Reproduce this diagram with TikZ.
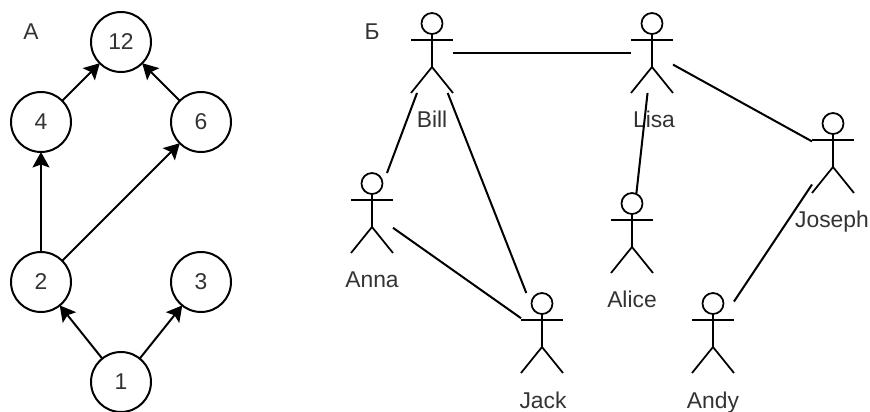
\documentclass[tikz,border=0pt]{standalone}
\usepackage{fontspec}
\setmainfont{Liberation Sans}
\usepackage{tikz}
\usetikzlibrary{positioning,calc,arrows.meta}

\tikzset{
  num/.style={circle,draw,line width=0.04cm,fill=white,minimum size=1.2cm,inner sep=0pt,outer sep=0pt,text=black!80},
  actorbox/.style={rectangle,minimum width=0.84cm,minimum height=1.6cm,inner sep=0pt,outer sep=0pt},
  edgeto/.style={line width=0.04cm,-{Stealth[length=0.31cm,width=0.34cm,inset=0.06cm]}},
  friend/.style={line width=0.04cm},
  actorline/.style={line width=0.035cm},
  txt/.style={text=black!80,inner sep=0pt,anchor=base}
}

\begin{document}
\begin{tikzpicture}[x=0.02cm,y=-0.02cm,every node/.append style={font=\fontsize{13pt}{15pt}\selectfont}]
      \useasboundingbox (0,0) rectangle (870,412);

      \node[txt] (titleA) at (31,40) {А};
      \node[txt] (titleB) at (372,40) {Б};

      % left graph
      \node[num] (n12) at (121,42) {12};
      \node[num] (n4) at (41,122) {4};
      \node[num] (n6) at (201,122) {6};
      \node[num] (n2) at (41,282) {2};
      \node[num] (n3) at (201,282) {3};
      \node[num] (n1) at (121,382) {1};

      \draw[edgeto] (n4) -- (n12);
      \draw[edgeto] (n6) -- (n12);
      \draw[edgeto] (n2) -- (n4);
      \draw[edgeto] (n2) -- (n6);
      \draw[edgeto] (n1) -- (n2);
      \draw[edgeto] (n1) -- (n3);

      % right graph
      \node[actorbox] (bill) at (432,53) {};
      \node[actorbox] (lisa) at (652,53) {};
      \node[actorbox] (anna) at (372,213) {};
      \node[actorbox] (alice) at (632,233) {};
      \node[actorbox] (joseph) at (833,153) {};
      \node[actorbox] (jack) at (542,333) {};
      \node[actorbox] (andy) at (713,333) {};

      \foreach \who in {bill,lisa,anna,alice,joseph,jack,andy} {
        \draw[actorline] ($(\who.north)+(0,10.5)$) circle [radius=0.21cm];
        \draw[actorline] ($(\who.north)+(0,21)$) -- ($(\who.north)+(0,54)$);
        \draw[actorline] ($(\who.north west)+(0,27)$) -- ($(\who.north east)+(0,27)$);
        \draw[actorline] (\who.south west) -- ($(\who.north)+(0,54)$) -- (\who.south east);
      }

      \node[txt] (billname) at (432,128) {Bill};
      \node[txt] (lisaname) at (654,128) {Lisa};
      \node[txt] (annaname) at (372,288) {Anna};
      \node[txt] (alicename) at (632,308) {Alice};
      \node[txt] (josephname) at (832,228) {Joseph};
      \node[txt] (jackname) at (543,408) {Jack};
      \node[txt] (andyname) at (713,408) {Andy};

      \draw[friend] (bill) -- (lisa);
      \draw[friend] (bill) -- (anna);
      \draw[friend] (bill) -- (jack);
      \draw[friend] (anna) -- (jack);
      \draw[friend] (lisa) -- (alice);
      \draw[friend] (lisa) -- (joseph);
      \draw[friend] (andy) -- (joseph);
\end{tikzpicture}
\end{document}
